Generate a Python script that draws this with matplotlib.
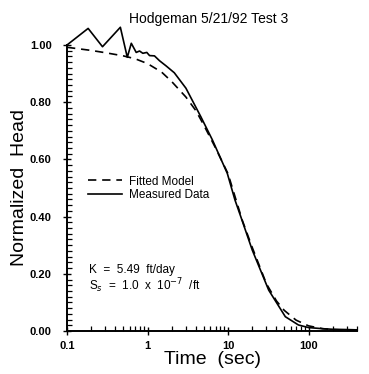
import matplotlib
matplotlib.use("Agg")
import matplotlib.pyplot as plt
from matplotlib.ticker import FixedLocator, LogLocator, NullFormatter

plt.rcParams['font.family'] = ['Liberation Sans', 'DejaVu Sans']

fit_t = [0.1, 0.2, 0.3, 0.5, 0.7, 1.0, 1.5, 2.0, 3.0, 4.0, 5.0, 7.0, 10, 15, 20, 30, 40, 50, 70, 100, 150, 200, 300, 400]
fit_h = [0.992, 0.981, 0.973, 0.962, 0.952, 0.935, 0.905, 0.872, 0.818, 0.770, 0.720, 0.640, 0.550, 0.388, 0.292, 0.165, 0.105, 0.072, 0.038, 0.018, 0.008, 0.005, 0.003, 0.002]

meas_t = [0.1, 0.183, 0.276, 0.46, 0.561, 0.629, 0.724, 0.796, 0.875, 0.98, 1.06, 1.22, 1.41, 1.70, 2.15, 3.0, 4.6, 6.4, 9.8, 12.2, 14.4, 20, 32, 51.5, 75, 100, 150, 200, 300, 400]
meas_h = [1.0, 1.058, 0.994, 1.062, 0.957, 1.006, 0.974, 0.979, 0.971, 0.974, 0.963, 0.962, 0.945, 0.927, 0.903, 0.849, 0.749, 0.668, 0.551, 0.458, 0.40, 0.283, 0.143, 0.050, 0.021, 0.012, 0.008, 0.006, 0.005, 0.004]

x_ticks = [0.1, 1, 10, 100]
x_tick_labels = ['0.1', '1', '10', '100']
y_ticks = [0.0, 0.2, 0.4, 0.6, 0.8, 1.0]
y_tick_labels = ['0.00', '0.20', '0.40', '0.60', '0.80', '1.00']

fig = plt.figure(figsize=(3.69, 3.74), dpi=100)
ax = fig.add_axes([67/369, 1-331/374, (357-67)/369, (331-45)/374])

ax.plot(fit_t, fit_h, color='black', lw=1.2, ls=(0, (5, 3.5)), clip_on=False, label='Fitted Model')
ax.plot(meas_t, meas_h, color='black', lw=1.2, clip_on=False, label='Measured Data')

ax.set_xscale('log')
ax.set_xlim(0.1, 400)
ax.set_ylim(0, 1.0)

for s in ['top', 'right']:
    ax.spines[s].set_visible(False)
for s in ['left', 'bottom']:
    ax.spines[s].set_linewidth(1.4)

ax.set_xticks(x_ticks)
ax.set_xticklabels(x_tick_labels, fontsize=8, fontweight='bold')
ax.xaxis.set_minor_locator(LogLocator(base=10, subs=range(2, 10)))
ax.xaxis.set_minor_formatter(NullFormatter())
ax.set_yticks(y_ticks)
ax.set_yticklabels(y_tick_labels, fontsize=8, fontweight='bold')
ax.yaxis.set_minor_locator(FixedLocator([i * 0.02 for i in range(51)]))

ax.tick_params(which='major', direction='inout', length=6, width=1.0)
ax.tick_params(which='minor', direction='in', length=3.5, width=0.9)
ax.tick_params(axis='x', which='major', pad=4.5)
ax.tick_params(axis='y', which='major', pad=8)

ax.set_xlabel('Time  (sec)', fontsize=14, labelpad=0)
ax.set_ylabel('Normalized  Head', fontsize=14, labelpad=1)
ax.set_title('Hodgeman 5/21/92 Test 3', fontsize=10, x=0.49, pad=16)

leg = ax.legend(loc='upper left', bbox_to_anchor=(0.055, 0.56), frameon=False,
                fontsize=8.5, handlelength=2.9, handletextpad=0.6, labelspacing=0.1,
                borderaxespad=0)

ax.text(0.075, 0.212, 'K  =  5.49  ft/day', transform=ax.transAxes, fontsize=8.5, va='center')
ax.text(0.075, 0.160, 'S$_s$  =  1.0  x  10$^{-7}$  /ft', transform=ax.transAxes, fontsize=8.5, va='center')

fig.savefig('out.png', dpi=100)
